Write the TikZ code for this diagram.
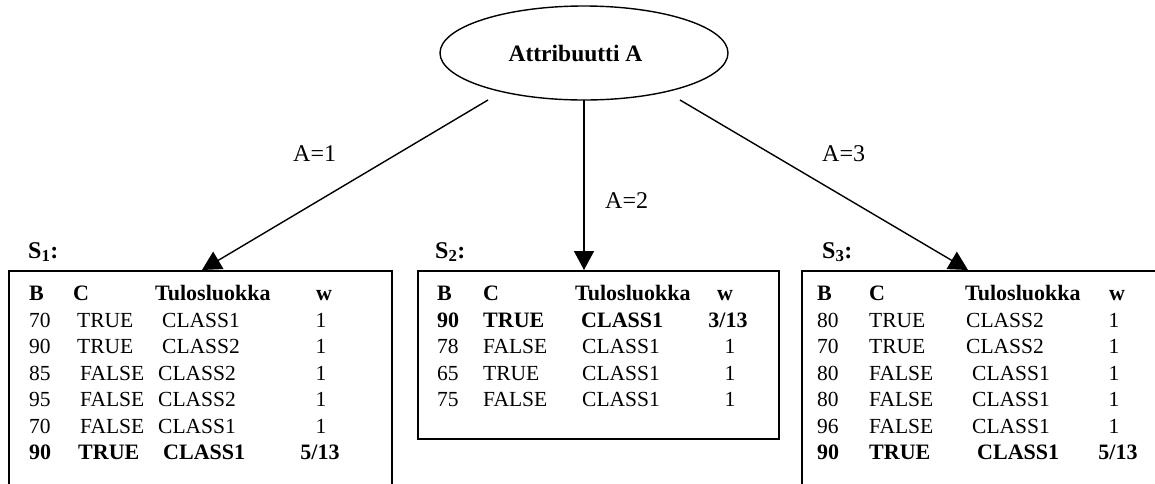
\documentclass[tikz,border=0pt]{standalone}
\usepackage{fontspec}
\setmainfont{Liberation Serif}
\usetikzlibrary{shapes.geometric,arrows.meta}
\tikzset{
  tx/.style={anchor=base west, inner sep=0pt, font=\fontsize{21.5}{26}\selectfont},
  txb/.style={tx, font=\fontsize{22}{26}\selectfont\bfseries},
  wc/.style={anchor=base, inner sep=0pt, font=\fontsize{21.5}{26}\selectfont},
  wcb/.style={wc, font=\fontsize{22}{26}\selectfont\bfseries},
  lbl/.style={tx, font=\fontsize{24}{28}\selectfont},
  setlbl/.style={tx, font=\fontsize{24}{28}\selectfont\bfseries},
  tbox/.style={draw, line width=1.7pt, anchor=north west, inner sep=0pt},
  conn/.style={line width=1.4pt, -{Triangle[length=19pt,width=20pt]}}
}
\begin{document}
\begin{tikzpicture}[x=1pt,y=-1pt]
\useasboundingbox (0,0) rectangle (1155,483);

% root
\node[draw, ellipse, line width=1.4pt, minimum width=288pt, minimum height=94pt, inner sep=0pt] (root) at (584,53) {};
\node[anchor=base, inner sep=0pt, font=\fontsize{23.5}{28}\selectfont\bfseries] (roottxt) at (575.5,61) {Attribuutti A};

% boxes
\node[tbox, minimum width=383pt, minimum height=240pt] (box1) at (8,270) {};
\node[tbox, minimum width=361pt, minimum height=168pt] (box2) at (417,270) {};
\node[tbox, minimum width=380pt, minimum height=240pt] (box3) at (801,270) {};

% connector ends
\coordinate (s1) at (488,100);
\coordinate (s2) at (584,100);
\coordinate (s3) at (680,100);
\coordinate (e1) at (202,270);
\coordinate (e2) at (584,270);
\coordinate (e3) at (968,270);
\draw[conn] (s1) -- (e1);
\draw[conn] (s2) -- (e2);
\draw[conn] (s3) -- (e3);

% edge labels
\node[lbl] (l1) at (293,161) {A=1};
\node[lbl] (l2) at (605,208) {A=2};
\node[lbl] (l3) at (822,161) {A=3};

% set labels
\node[setlbl] (S1) at (28,258) {S\textsubscript{1}:};
\node[setlbl] (S2) at (435,258) {S\textsubscript{2}:};
\node[setlbl] (S3) at (822,258) {S\textsubscript{3}:};

% ---- table 1
\node[txb] (h1b) at (29,300) {B};
\node[txb] (h1c) at (73,300) {C};
\node[txb] (h1t) at (155,300) {Tulosluokka};
\node[wcb] (h1w) at (324,300) {w};
\foreach \y/\b/\cx/\c/\dx/\d [count=\i] in {
  327/70/77/TRUE/162/CLASS1,
  353/90/77/TRUE/162/CLASS2,
  380/85/80/FALSE/158/CLASS2,
  406/95/80/FALSE/158/CLASS2,
  433/70/80/FALSE/158/CLASS1}{
  \node[tx] (t1b\i) at (29,\y) {\b};
  \node[tx] (t1c\i) at (\cx,\y) {\c};
  \node[tx] (t1d\i) at (\dx,\y) {\d};
  \node[wc] (t1w\i) at (321,\y) {1};
}
\node[txb] (t1b6) at (29,459) {90};
\node[txb] (t1c6) at (78,459) {TRUE};
\node[txb] (t1d6) at (163,459) {CLASS1};
\node[wcb] (t1w6) at (320,459) {5/13};

% ---- table 2
\node[txb] (h2b) at (437,300) {B};
\node[txb] (h2c) at (483,300) {C};
\node[txb] (h2t) at (575,300) {Tulosluokka};
\node[wcb] (h2w) at (725,300) {w};
\node[txb] (t2b1) at (437,327) {90};
\node[txb] (t2c1) at (483,327) {TRUE};
\node[txb] (t2d1) at (581,327) {CLASS1};
\node[wcb] (t2w1) at (728,327) {3/13};
\foreach \y/\b/\c [count=\i from 2] in {
  353/78/FALSE,
  380/65/TRUE,
  406/75/FALSE}{
  \node[tx] (t2b\i) at (437,\y) {\b};
  \node[tx] (t2c\i) at (483,\y) {\c};
  \node[tx] (t2d\i) at (582,\y) {CLASS1};
  \node[wc] (t2w\i) at (730,\y) {1};
}

% ---- table 3
\node[txb] (h3b) at (817,300) {B};
\node[txb] (h3c) at (869,300) {C};
\node[txb] (h3t) at (965,300) {Tulosluokka};
\node[wcb] (h3w) at (1117,300) {w};
\foreach \y/\b/\c/\dx/\d [count=\i] in {
  327/80/TRUE/966/CLASS2,
  353/70/TRUE/966/CLASS2,
  380/80/FALSE/972/CLASS1,
  406/80/FALSE/972/CLASS1,
  433/96/FALSE/972/CLASS1}{
  \node[tx] (t3b\i) at (817,\y) {\b};
  \node[tx] (t3c\i) at (869,\y) {\c};
  \node[tx] (t3d\i) at (\dx,\y) {\d};
  \node[wc] (t3w\i) at (1114,\y) {1};
}
\node[txb] (t3b6) at (817,459) {90};
\node[txb] (t3c6) at (869,459) {TRUE};
\node[txb] (t3d6) at (977,459) {CLASS1};
\node[wcb] (t3w6) at (1118,459) {5/13};
\end{tikzpicture}
\end{document}
